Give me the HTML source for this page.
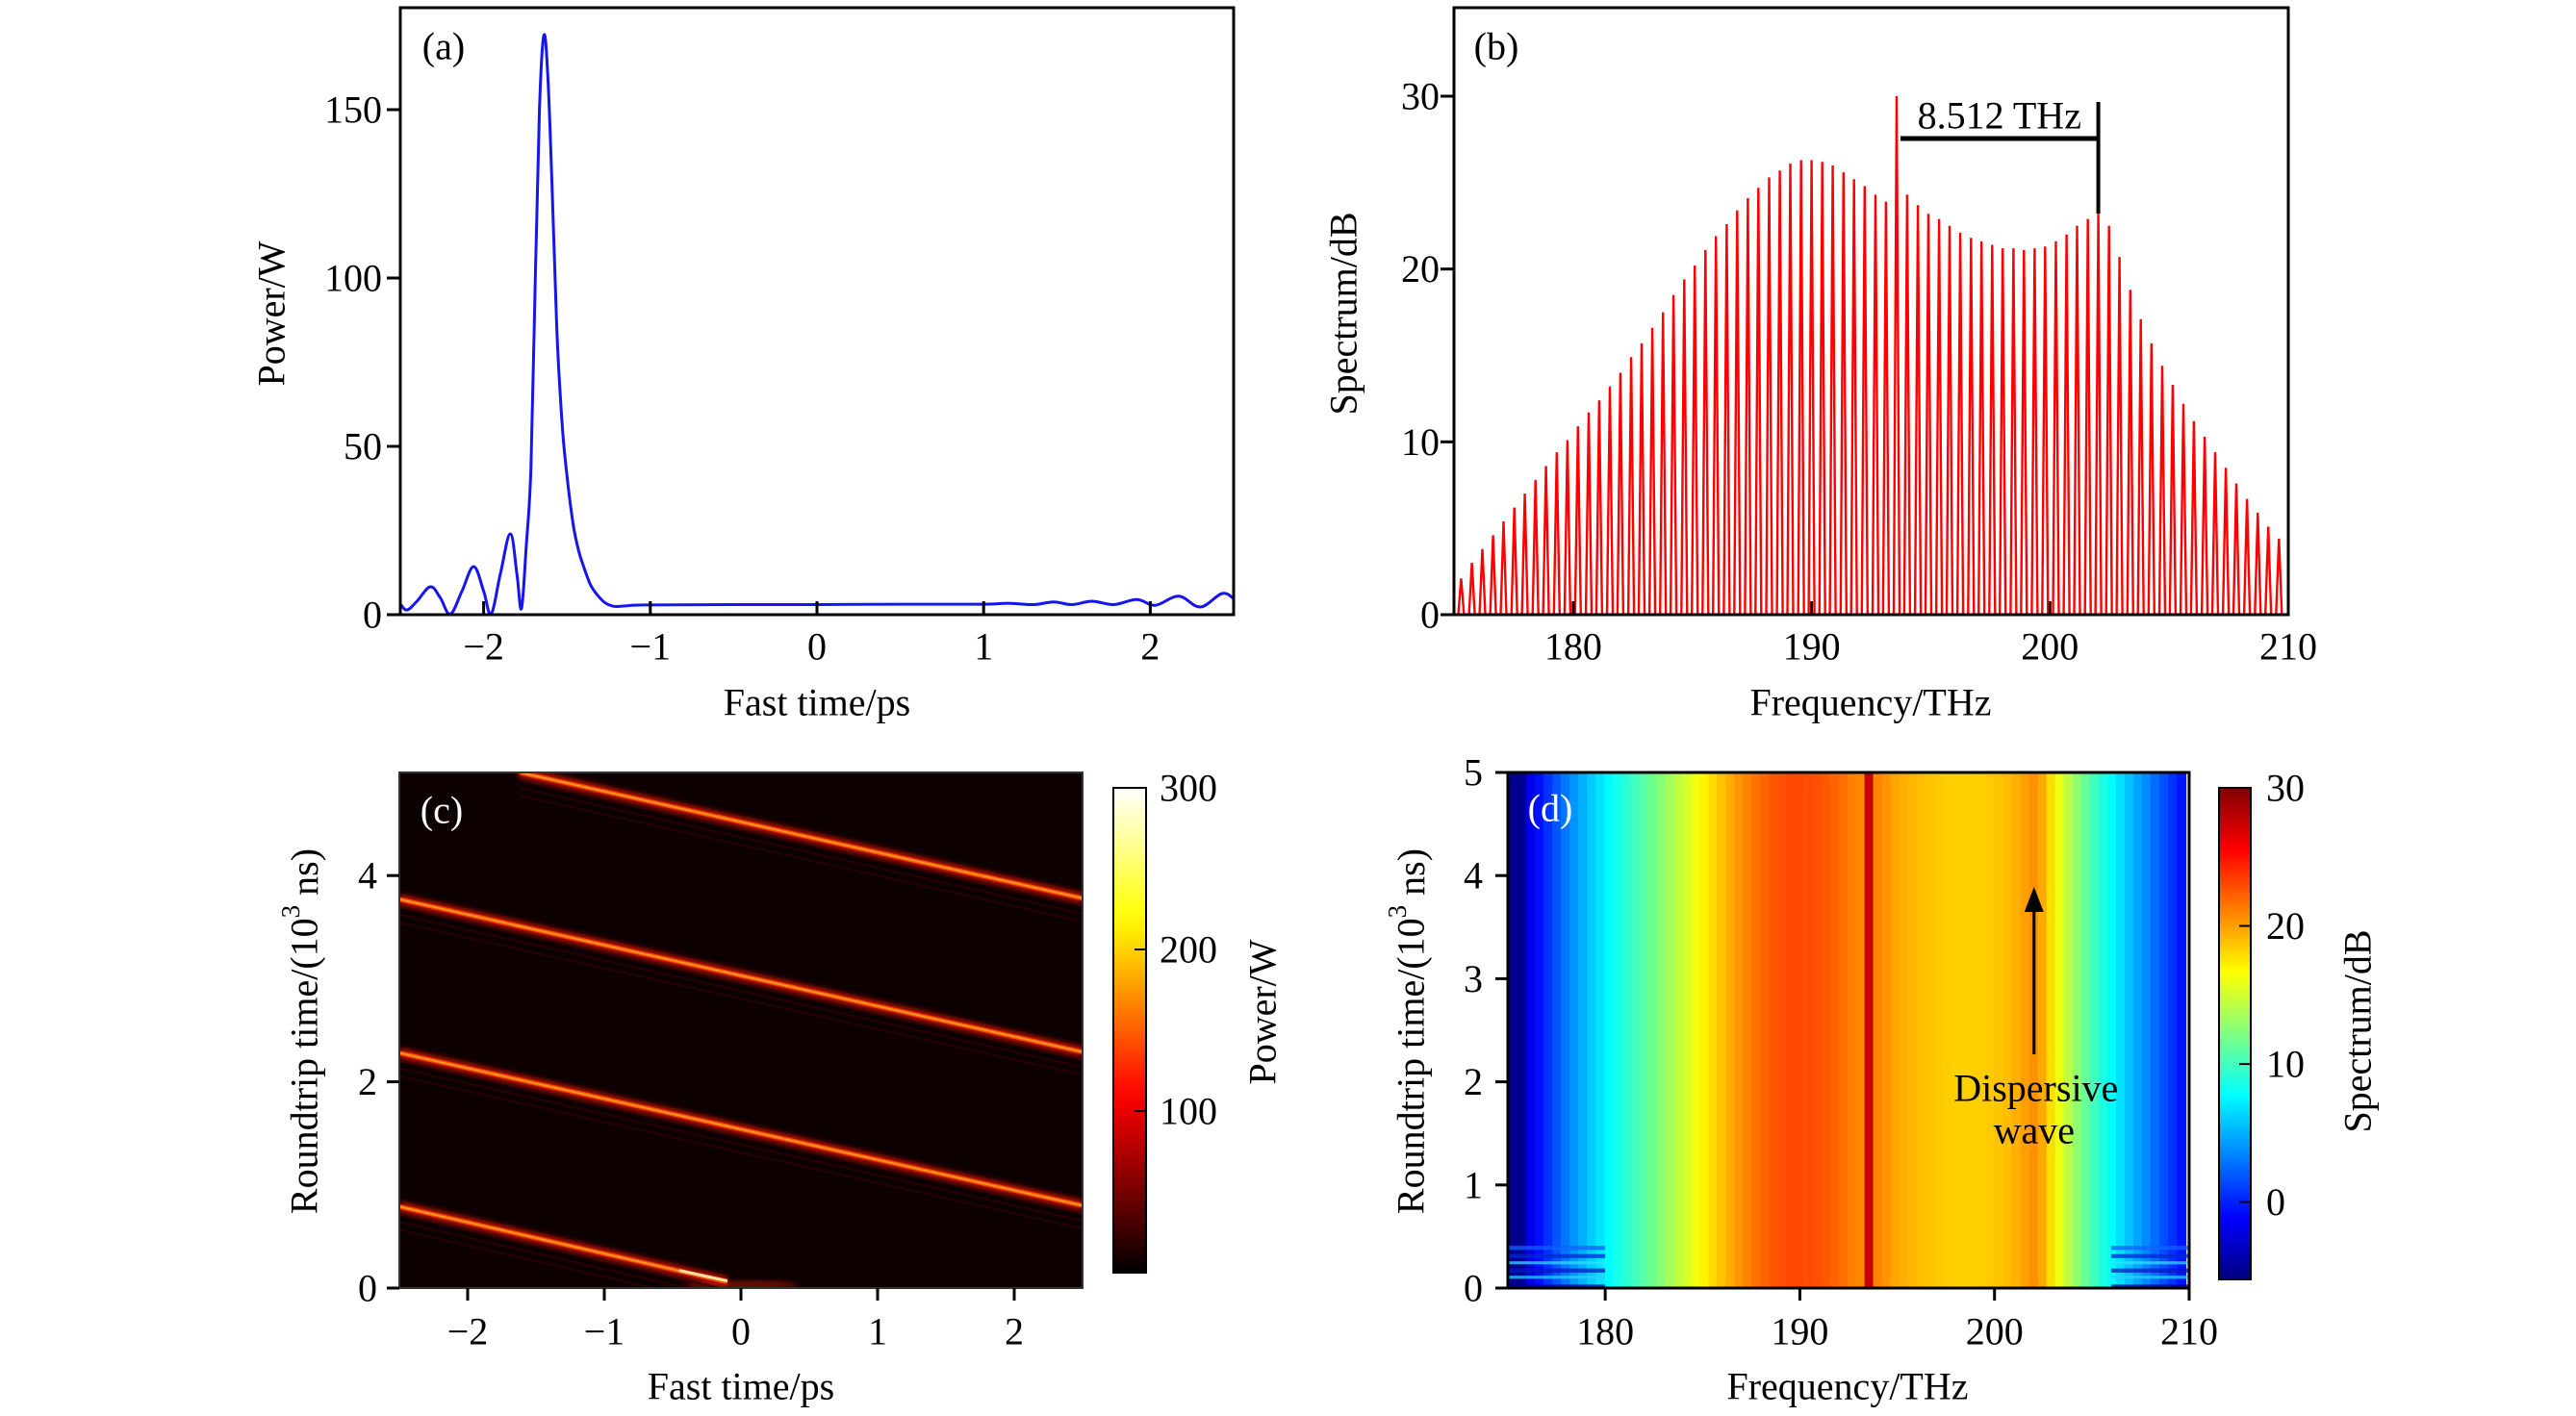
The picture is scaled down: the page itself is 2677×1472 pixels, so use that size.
<!DOCTYPE html>
<html><head><meta charset="utf-8"><style>
html,body{margin:0;padding:0;background:#fff;}
svg{display:block;}
text{font-family:"Liberation Serif",serif;font-size:40px;}
</style></head><body>
<svg id="fig" width="2677" height="1472" viewBox="0 0 2677 1472" xmlns="http://www.w3.org/2000/svg">
<defs>
<filter id="glow" x="-10%" y="-10%" width="120%" height="120%"><feGaussianBlur stdDeviation="3"/></filter>
<clipPath id="clipA"><rect x="416" y="8" width="866" height="631"/></clipPath>
<clipPath id="clipB"><rect x="1511" y="8" width="867" height="631"/></clipPath>
<clipPath id="clipC"><rect x="415" y="803" width="710" height="536"/></clipPath>
<clipPath id="clipD"><rect x="1567" y="803" width="708" height="536"/></clipPath>
</defs>
</svg>
<script>
// ---------- data ----------
const aTime = [-2.5,-2.46,-2.4,-2.32,-2.26,-2.2,-2.13,-2.06,-2.0,-1.955,-1.9,-1.84,-1.8,-1.773,-1.745,-1.716,-1.69,-1.665,-1.639,-1.615,-1.59,-1.562,-1.54,-1.52,-1.49,-1.46,-1.43,-1.40,-1.36,-1.32,-1.27,-1.217,-1.15,-1.03,-0.5,0,0.5,1.0,1.15,1.3,1.42,1.53,1.65,1.78,1.92,2.03,2.17,2.3,2.43,2.5];
const aPower = [3.2,1.4,4,8.3,5,0.2,7,14.3,7,0.2,12,24,12,1.8,20,44,100,150,172,160,128,86,65,51,37,26,19,14.3,9,6,3.5,2.5,2.6,2.9,3,3,3.1,3.1,3.4,3.0,3.8,3.0,4.0,3.0,4.5,2.8,5.5,2.3,6.3,4.8];
const aXTicks = [-2,-1,0,1,2];
const aYTicks = [0,50,100,150];

const combFreq = [175.3,175.75,176.19,176.64,177.08,177.53,177.97,178.42,178.86,179.31,179.76,180.2,180.65,181.09,181.54,181.98,182.43,182.87,183.32,183.77,184.21,184.66,185.1,185.55,185.99,186.44,186.88,187.33,187.77,188.22,188.67,189.11,189.56,190.0,190.45,190.89,191.34,191.78,192.23,192.68,193.12,193.57,194.01,194.46,194.9,195.35,195.79,196.24,196.69,197.13,197.58,198.02,198.47,198.91,199.36,199.8,200.25,200.7,201.14,201.59,202.03,202.48,202.92,203.37,203.81,204.26,204.71,205.15,205.6,206.04,206.49,206.93,207.38,207.82,208.27,208.72,209.16,209.61];
const combDb = [2.1,3.0,3.8,4.6,5.4,6.2,7.0,7.8,8.6,9.4,10.1,10.9,11.7,12.4,13.2,14.0,14.9,15.7,16.6,17.5,18.5,19.4,20.2,21.1,21.9,22.6,23.4,24.1,24.7,25.3,25.7,26.1,26.3,26.3,26.2,26.0,25.6,25.2,24.8,24.3,23.9,30.0,24.3,23.7,23.2,22.9,22.5,22.1,21.8,21.6,21.4,21.2,21.2,21.1,21.2,21.3,21.6,22.0,22.5,22.9,23.2,22.5,20.7,18.8,17.1,15.7,14.4,13.3,12.2,11.2,10.3,9.4,8.5,7.6,6.7,5.9,5.1,4.4];
const bXTicks = [180,190,200,210];
const bYTicks = [0,10,20,30];

const cSegStartT = [-1.62,-2.5,-2.5,-2.5];
const cSegStartY = [5.0,3.77,2.28,0.79];
const cSegEndT = [2.5,2.5,2.5,-0.1];
const cSegEndY = [3.78,2.29,0.8,0.06];
const cXTicks = [-2,-1,0,1,2];
const cYTicks = [0,2,4];
const cBarTicks = [100,200,300];

const dBandDb = [-5.2,-5.0,-2.0,-0.6,0.6,1.8,3.0,4.0,5.0,6.0,6.8,7.6,8.4,9.2,10.0,10.8,11.6,12.5,13.4,14.3,15.3,16.2,17.0,17.9,18.7,19.5,20.3,21.0,21.6,22.1,22.5,22.8,23.0,23.0,22.9,22.8,22.5,22.1,21.7,21.2,20.8,27.5,20.9,20.3,19.8,19.5,19.2,18.9,18.7,18.5,18.4,18.3,18.3,18.3,18.4,18.5,18.7,19.0,19.4,20.0,20.5,19.6,17.8,16.0,14.3,12.7,11.3,10.0,8.8,7.7,6.7,5.7,4.6,3.6,2.6,1.6,0.6,-0.4];
const dXTicks = [180,190,200,210];
const dYTicks = [0,1,2,3,4,5];
const dBarTicks = [0,10,20,30];

// ---------- helpers ----------
const NS = 'http://www.w3.org/2000/svg';
const svg = document.getElementById('fig');
function mk(tag, attrs, parent){
  const e = document.createElementNS(NS, tag);
  for (const k in attrs) e.setAttribute(k, attrs[k]);
  (parent||svg).appendChild(e);
  return e;
}
function txt(s, x, y, anchor, parent){
  const e = mk('text', {x:x, y:y, 'text-anchor':anchor||'middle', 'dominant-baseline':'central'}, parent);
  e.textContent = s;
  return e;
}
function lin(d0,d1,r0,r1){ return v => r0 + (v-d0)*(r1-r0)/(d1-d0); }
function clamp(v){ return Math.max(0, Math.min(1, v)); }
function jet(x){
  const r = clamp(1.5-Math.abs(4*x-3)), g = clamp(1.5-Math.abs(4*x-2)), b = clamp(1.5-Math.abs(4*x-1));
  return 'rgb('+Math.round(r*255)+','+Math.round(g*255)+','+Math.round(b*255)+')';
}
function hot(x){
  const r = clamp(x/0.365), g = clamp((x-0.365)/0.365), b = clamp((x-0.73)/0.27);
  return 'rgb('+Math.round(r*255)+','+Math.round(g*255)+','+Math.round(b*255)+')';
}
function smoothPath(pts){
  let d = 'M'+pts[0][0]+','+pts[0][1];
  for (let i=0;i<pts.length-1;i++){
    const p0 = pts[Math.max(0,i-1)], p1 = pts[i], p2 = pts[i+1], p3 = pts[Math.min(pts.length-1,i+2)];
    const t = 0.18;
    const c1 = [p1[0]+(p2[0]-p0[0])*t, p1[1]+(p2[1]-p0[1])*t];
    const c2 = [p2[0]-(p3[0]-p1[0])*t, p2[1]-(p3[1]-p1[1])*t];
    d += ' C'+c1[0].toFixed(1)+','+c1[1].toFixed(1)+' '+c2[0].toFixed(1)+','+c2[1].toFixed(1)+' '+p2[0].toFixed(1)+','+p2[1].toFixed(1);
  }
  return d;
}

// ---------- panel (a) ----------
const gA = mk('g', {});


const ax = lin(-2.5, 2.5, 416, 1282), ay = lin(0, 150, 639, 114);
const aPts = aTime.map((t,i)=>[ax(t), ay(aPower[i])]);
const aLine = mk('path', {d:smoothPath(aPts), fill:'none', stroke:'#1515ee', 'stroke-width':3, 'clip-path':'url(#clipA)'}, gA);


const aFrame = mk('rect', {x:416, y:8, width:866, height:631, fill:'none', stroke:'#000', 'stroke-width':3}, gA);


aXTicks.forEach(v=>{
  const tk = mk('line', {x1:ax(v), x2:ax(v), y1:639, y2:625, stroke:'#000', 'stroke-width':3}, gA);
  
  
  const lb = txt(v<0 ? '\u2212'+(-v) : String(v), ax(v), 672, 'middle', gA);
  
  
});
aYTicks.forEach(v=>{
  const tk = mk('line', {x1:402, x2:416, y1:ay(v), y2:ay(v), stroke:'#000', 'stroke-width':3}, gA);
  
  
  const lb = txt(String(v), 397, ay(v), 'end', gA);
  
  
});
const aXT = txt('Fast time/ps', 849, 730, 'middle', gA);


const aYT = txt('Power/W', 0, 0, 'middle', gA);
aYT.setAttribute('transform', 'translate(282,326) rotate(-90)');


const aLab = txt('(a)', 461, 48, 'middle', gA);



// ---------- panel (b) ----------
const gB = mk('g', {});


const bx = lin(175, 210, 1511, 2378), by = lin(0, 30, 639, 100);
let bd = '';
combFreq.forEach((f,i)=>{
  const x = bx(f);
  bd += 'M'+(x-3).toFixed(1)+',639 L'+x.toFixed(1)+','+by(combDb[i]).toFixed(1)+' L'+(x+3).toFixed(1)+',639 ';
});
const bLines = mk('path', {d:bd, fill:'none', stroke:'#ff0000', 'stroke-width':2.4, 'clip-path':'url(#clipB)'}, gB);


const bFrame = mk('rect', {x:1511, y:8, width:867, height:631, fill:'none', stroke:'#000', 'stroke-width':3}, gB);


bXTicks.forEach(v=>{
  const tk = mk('line', {x1:bx(v), x2:bx(v), y1:639, y2:625, stroke:'#000', 'stroke-width':3}, gB);
  
  
  const lb = txt(String(v), bx(v), 672, 'middle', gB);
  
  
});
bYTicks.forEach(v=>{
  const tk = mk('line', {x1:1497, x2:1511, y1:by(v), y2:by(v), stroke:'#000', 'stroke-width':3}, gB);
  
  
  const lb = txt(String(v), 1496, by(v), 'end', gB);
  
  
});
const pumpX = bx(combFreq[41]), dwX = bx(combFreq[60]);
const brH = mk('line', {x1:pumpX+4, x2:dwX, y1:144, y2:144, stroke:'#000', 'stroke-width':5}, gB);


const brV = mk('line', {x1:dwX, x2:dwX, y1:106, y2:by(combDb[60]), stroke:'#000', 'stroke-width':4}, gB);


const brT = txt('8.512 THz', (pumpX+dwX)/2+2, 120, 'middle', gB);


const bXT = txt('Frequency/THz', 1944, 730, 'middle', gB);


const bYT = txt('Spectrum/dB', 0, 0, 'middle', gB);
bYT.setAttribute('transform', 'translate(1396,326) rotate(-90)');


const bLab = txt('(b)', 1555, 48, 'middle', gB);



// ---------- panel (c) ----------
const gC = mk('g', {});


const cx = lin(-2.5, 2.5, 415, 1125), cy = lin(0, 5, 1339, 803);
const cBg = mk('rect', {x:415, y:803, width:710, height:536, fill:'#0c0000'}, gC);


const cClip = mk('g', {'clip-path':'url(#clipC)'}, gC);


const glowBottom = mk('ellipse', {cx:cx(0.0), cy:cy(0.03), rx:60, ry:5, fill:'#6a0800', filter:'url(#glow)'}, cClip);


cSegStartT.forEach((t0,i)=>{
  const x1 = cx(t0), y1 = cy(cSegStartY[i]), x2 = cx(cSegEndT[i]), y2 = cy(cSegEndY[i]);
  for (let k=1;k<=3;k++){
    const sh = mk('line', {x1:x1, y1:y1+k*8, x2:x2, y2:y2+k*8, stroke:'#260200', 'stroke-width':2}, cClip);
    
    
  }
  const halo = mk('line', {x1:x1, y1:y1, x2:x2, y2:y2, stroke:'#d01800', 'stroke-width':10, filter:'url(#glow)'}, cClip);
  
  
  const core = mk('line', {x1:x1, y1:y1, x2:x2, y2:y2, stroke:'#ff5000', 'stroke-width':4.5}, cClip);
  
  
  const hi = mk('line', {x1:x1, y1:y1, x2:x2, y2:y2, stroke:'#ffa030', 'stroke-width':1.5}, cClip);
  
  
});
const burst = mk('line', {x1:cx(-0.45), y1:cy(0.17), x2:cx(-0.1), y2:cy(0.07), stroke:'#ffe0a0', 'stroke-width':3}, cClip);


const cFrame = mk('rect', {x:415, y:803, width:710, height:536, fill:'none', stroke:'#333', 'stroke-width':2}, gC);


cXTicks.forEach(v=>{
  const tk = mk('line', {x1:cx(v), x2:cx(v), y1:1339, y2:1352, stroke:'#000', 'stroke-width':3}, gC);
  
  
  const lb = txt(v<0 ? '\u2212'+(-v) : String(v), cx(v), 1384, 'middle', gC);
  
  
});
cYTicks.forEach(v=>{
  const tk = mk('line', {x1:402, x2:415, y1:cy(v), y2:cy(v), stroke:'#000', 'stroke-width':3}, gC);
  
  
  const lb = txt(String(v), 392, cy(v), 'end', gC);
  
  
});
const cXT = txt('Fast time/ps', 770, 1441, 'middle', gC);


const cYT = mk('text', {x:0, y:0, 'text-anchor':'middle', 'dominant-baseline':'central', transform:'translate(316,1072) rotate(-90)'}, gC);
cYT.innerHTML = 'Roundtrip time/(10<tspan dy="-14" font-size="27">3</tspan><tspan dy="14"> ns)</tspan>';


const cLab = mk('text', {x:459, y:842, 'text-anchor':'middle', 'dominant-baseline':'central', style:'fill:#ffffff'}, gC);
cLab.textContent = '(c)';


const cbcy = lin(0, 300, 1323, 819);
const gradC = mk('linearGradient', {id:'gradC', x1:0, y1:1, x2:0, y2:0}, svg.querySelector('defs'));
for (let i=0;i<=20;i++){ mk('stop', {offset:(i/20), 'stop-color':hot(i/20)}, gradC); }
const cBar = mk('rect', {x:1157, y:819, width:34, height:504, fill:'url(#gradC)', stroke:'#000', 'stroke-width':2}, gC);


cBarTicks.forEach(v=>{
  const tk = mk('line', {x1:1179, x2:1191, y1:cbcy(v), y2:cbcy(v), stroke:'#000', 'stroke-width':2}, gC);
  
  
  const lb = txt(String(v), 1205, cbcy(v), 'start', gC);
  
  
});
const cBT = txt('Power/W', 0, 0, 'middle', gC);
cBT.setAttribute('transform', 'translate(1312,1052) rotate(-90)');



// ---------- panel (d) ----------
const gD = mk('g', {});


const dx = lin(175, 210, 1567, 2275), dy = lin(0, 5, 1339, 803);
const dVmin = -5.6, dVmax = 30;
const dClip = mk('g', {'clip-path':'url(#clipD)'}, gD);


const half = (combFreq[1]-combFreq[0])/2;
combFreq.forEach((f,i)=>{
  const x0 = dx(i===0 ? 175 : f-half), x1 = dx(f+half);
  const cell = mk('rect', {x:x0-0.5, y:803, width:(x1-x0)+1, height:536, fill:jet((dBandDb[i]-dVmin)/(dVmax-dVmin))}, dClip);
  
  
});
const dStripes = [[0.0,0.035,'#00008f'],[0.09,0.12,'#2ad0ff'],[0.15,0.19,'#0018c0'],[0.23,0.26,'#30e0ff'],[0.29,0.33,'#0028d0'],[0.37,0.41,'#1060ff']];
dStripes.forEach(s=>{
  ['L','R'].forEach(side=>{
    const w = side==='L' ? dx(180)-dx(175) : dx(210)-dx(206);
    const xs = side==='L' ? dx(175) : dx(206);
    const st = mk('rect', {x:xs, y:dy(s[1]), width:w, height:dy(s[0])-dy(s[1]), fill:s[2], opacity:0.75}, dClip);
    
    
  });
});
const dFrame = mk('rect', {x:1567, y:803, width:708, height:536, fill:'none', stroke:'#000', 'stroke-width':3}, gD);


dXTicks.forEach(v=>{
  const tk = mk('line', {x1:dx(v), x2:dx(v), y1:1339, y2:1352, stroke:'#000', 'stroke-width':3}, gD);
  
  
  const lb = txt(String(v), dx(v), 1384, 'middle', gD);
  
  
});
dYTicks.forEach(v=>{
  const tk = mk('line', {x1:1554, x2:1567, y1:dy(v), y2:dy(v), stroke:'#000', 'stroke-width':3}, gD);
  
  
  const lb = txt(String(v), 1541, dy(v), 'end', gD);
  
  
});
const arrX = dx(combFreq[60]);
const arr = mk('line', {x1:arrX, x2:arrX, y1:1096, y2:935, stroke:'#000', 'stroke-width':3}, gD);


const arrH = mk('polygon', {points:(arrX-10)+',948 '+arrX+',922 '+(arrX+10)+',948'}, gD);


const dw1 = txt('Dispersive', arrX+2, 1131, 'middle', gD);


const dw2 = txt('wave', arrX, 1175, 'middle', gD);


const dXT = txt('Frequency/THz', 1920, 1441, 'middle', gD);


const dYT = mk('text', {x:0, y:0, 'text-anchor':'middle', 'dominant-baseline':'central', transform:'translate(1466,1072) rotate(-90)'}, gD);
dYT.innerHTML = 'Roundtrip time/(10<tspan dy="-14" font-size="27">3</tspan><tspan dy="14"> ns)</tspan>';


const dLab = mk('text', {x:1611, y:840, 'text-anchor':'middle', 'dominant-baseline':'central', style:'fill:#ffffff'}, gD);
dLab.textContent = '(d)';


const dby = lin(dVmin, dVmax, 1330, 819);
const gradD = mk('linearGradient', {id:'gradD', x1:0, y1:1, x2:0, y2:0}, svg.querySelector('defs'));
for (let i=0;i<=24;i++){ mk('stop', {offset:(i/24), 'stop-color':jet(i/24)}, gradD); }
const dBar = mk('rect', {x:2306, y:819, width:33, height:511, fill:'url(#gradD)', stroke:'#000', 'stroke-width':2}, gD);


dBarTicks.forEach(v=>{
  const tk = mk('line', {x1:2327, x2:2339, y1:dby(v), y2:dby(v), stroke:'#000', 'stroke-width':2}, gD);
  
  
  const lb = txt(String(v), 2355, dby(v), 'start', gD);
  
  
});
const dBT = txt('Spectrum/dB', 0, 0, 'middle', gD);
dBT.setAttribute('transform', 'translate(2450,1072) rotate(-90)');


</script>
</body></html>
